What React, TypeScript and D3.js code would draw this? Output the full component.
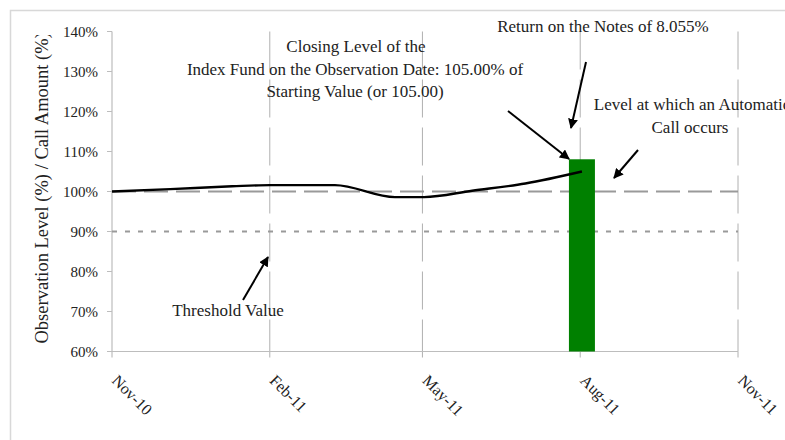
import React from "react";
import * as d3 from "d3";

const lineDates = ["2010-11-01", "2010-12-05", "2011-01-10", "2011-02-01", "2011-03-11", "2011-04-15", "2011-05-02", "2011-05-30", "2011-06-30", "2011-08-02"];
const lineValues = [100, 100.6, 101.3, 101.6, 101.6, 98.6, 98.6, 100.2, 102, 105];
const barDate = "2011-08-02";
const barValue = 108.055;
const callLevel = 100;
const thresholdLevel = 90;
const yTicks = [60, 70, 80, 90, 100, 110, 120, 130, 140];
const xTickDates = ["2010-11-01", "2011-02-01", "2011-05-01", "2011-08-01", "2011-11-01"];
const xTickLabels = ["Nov-10", "Feb-11", "May-11", "Aug-11", "Nov-11"];
const yTitle = "Observation Level (%) / Call Amount (%)";

const W = 785, H = 440;
const L = 112, R = 738, T = 31.5, B = 351.5;
const FONT = "'Liberation Serif', 'DejaVu Serif', serif";
const TXT = "#222";

const parse = (s: string) => new Date(s + "T00:00:00");

export default function App() {
  const x = d3.scaleTime().domain([parse("2010-11-01"), parse("2011-11-01")]).range([L, R]);
  const y = d3.scaleLinear().domain([60, 140]).range([B, T]);
  const pts = lineDates.map((d, i) => [x(parse(d)), y(lineValues[i])] as [number, number]);
  const lineGen = d3.line().curve(d3.curveMonotoneX);
  const barW = 26;
  const bx = x(parse(barDate));

  return (
    <svg width={W} height={H} style={{ position: "absolute", left: 0, top: 0, background: "#fff" }} fontFamily={FONT}>
      <defs>
        <marker id="ah" viewBox="0 0 10 10" refX="9" refY="5" markerWidth="5" markerHeight="5" orient="auto">
          <path d="M0,0 L10,5 L0,10 z" fill="#000" />
        </marker>
        <clipPath id="titleClip"><rect x={0} y={35} width={100} height={400} /></clipPath>
      </defs>
      <rect x={10.5} y={10.5} width={900} height={600} fill="#fff" stroke="#d8d8d8" strokeWidth={1.5} />

      {/* vertical gridlines */}
      {xTickDates.slice(1).map((d, i) => (
        <line key={"g" + i} x1={x(parse(d))} x2={x(parse(d))} y1={T} y2={B} stroke="#b0b0b0" strokeWidth={1} strokeDasharray="38,10" />
      ))}
      {/* x ticks */}
      {xTickDates.map((d, i) => (
        <line key={"xt" + i} x1={x(parse(d))} x2={x(parse(d))} y1={B} y2={B + 6} stroke="#b0b0b0" />
      ))}
      {/* axes */}
      <line x1={L} x2={R} y1={B} y2={B} stroke="#bdbdbd" strokeWidth={1.2} />
      <line x1={L} x2={L} y1={T} y2={B} stroke="#bdbdbd" strokeWidth={1.2} />
      {yTicks.map((v) => (
        <g key={"yt" + v}>
          <line x1={L - 5} x2={L} y1={y(v)} y2={y(v)} stroke="#bdbdbd" />
          <text x={98} y={y(v)} dy="0.35em" textAnchor="end" fontSize={15} fill={TXT}>{v}%</text>
        </g>
      ))}
      {xTickDates.map((d, i) => (
        <text key={"xl" + i} transform={`translate(${x(parse(d)) - 1},${B + 30}) rotate(45)`} fontSize={16} fill={TXT}>{xTickLabels[i]}</text>
      ))}
      <g clipPath="url(#titleClip)">
        <text transform={`translate(48,${B - 8}) rotate(-90)`} fontSize={18.5} fill={TXT}>{yTitle}</text>
      </g>

      {/* reference lines */}
      <line x1={L} x2={R} y1={y(callLevel)} y2={y(callLevel)} stroke="#9a9a9a" strokeWidth={2} strokeDasharray="24,8" />
      <line x1={L} x2={R} y1={y(thresholdLevel)} y2={y(thresholdLevel)} stroke="#9a9a9a" strokeWidth={2} strokeDasharray="5,8" />

      {/* bar */}
      <rect x={bx - barW / 2} y={y(barValue)} width={barW} height={y(60) - y(barValue)} fill="#008000" />

      {/* line */}
      <path d={lineGen(pts) || ""} fill="none" stroke="#000" strokeWidth={2.4} />

      {/* annotations */}
      <g fontSize={17} fill={TXT} textAnchor="middle">
        <text x={356} y={52}>Closing Level of the</text>
        <text x={355} y={75}>Index Fund on the Observation Date: 105.00% of</text>
        <text x={355} y={97}>Starting Value (or 105.00)</text>
        <text x={603} y={32}>Return on the Notes of 8.055%</text>
        <text x={692} y={110}>Level at which an Automatic</text>
        <text x={690} y={133}>Call occurs</text>
        <text x={228} y={316}>Threshold Value</text>
      </g>
      <g stroke="#000" strokeWidth={2} markerEnd="url(#ah)">
        <line x1={508} y1={111} x2={569} y2={159} />
        <line x1={586} y1={62} x2={571} y2={128} />
        <line x1={638} y1={150} x2={614} y2={178} />
        <line x1={243} y1={300} x2={268} y2={257} />
      </g>
    </svg>
  );
}
